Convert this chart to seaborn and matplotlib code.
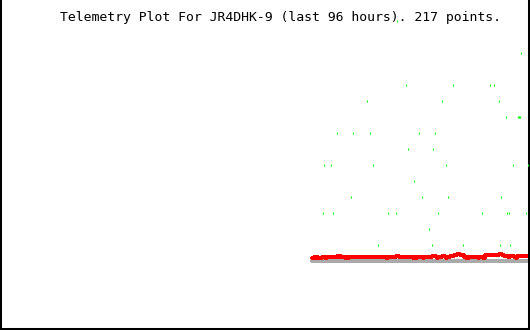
import matplotlib
matplotlib.use("Agg")
import matplotlib.pyplot as plt
import seaborn as sns
import pandas as pd

# ---- data ----
title = "Telemetry Plot For JR4DHK-9 (last 96 hours). 217 points."

# red series: step breakpoints (point index, value)
red_idx = [0, 2, 3, 5, 6, 10, 13, 15, 25, 26, 28, 29, 33, 34, 36, 37, 74, 76,
           84, 87, 101, 102, 103, 105, 111, 112, 120, 124, 125, 126, 130, 133,
           134, 135, 138, 142, 145, 148, 152, 154, 155, 156, 157, 166, 167, 171,
           173, 187, 190, 192, 196, 198, 202, 204, 205, 216]
red_val = [0.1875, 0.25, 0.1875, 0.25, 0.1875, 0.25, 0.1875, 0.25, 0.3125, 0.25,
           0.3125, 0.25, 0.1875, 0.25, 0.1875, 0.25, 0.1875, 0.25, 0.3125, 0.25,
           0.1875, 0.25, 0.1875, 0.25, 0.1875, 0.25, 0.3125, 0.25, 0.1875, 0.25,
           0.3125, 0.25, 0.1875, 0.25, 0.3125, 0.375, 0.4375, 0.375, 0.25, 0.1875,
           0.25, 0.1875, 0.25, 0.1875, 0.25, 0.1875, 0.375, 0.4375, 0.375, 0.3125,
           0.25, 0.3125, 0.25, 0.1875, 0.3125, 0.3125]

# green series: scattered points (point index, level)
green_idx = [85, 209, 94, 141, 178, 182, 55, 130, 187, 194, 206, 207, 208,
             25, 41, 58, 107, 123, 96, 121, 12, 19, 61, 134, 201, 216, 102,
             39, 110, 136, 189, 11, 21, 76, 84, 126, 170, 195, 197, 214, 117,
             66, 120, 151, 188, 198]
green_val = [15, 13, 11, 11, 11, 11, 10, 10, 10, 9, 9, 9, 9,
             8, 8, 8, 8, 8, 7, 7, 6, 6, 6, 6, 6, 6, 5,
             4, 4, 4, 4, 3, 3, 3, 3, 3, 3, 3, 3, 3, 2,
             1, 1, 1, 1, 1]

# gray baseline
base_idx = [0, 217]
base_val = [0, 0]

sns.set_theme(style="white")

fig = plt.figure(figsize=(5.3, 3.3), dpi=100)
ax = fig.add_axes([0, 0, 1, 1])

red_df = pd.DataFrame({"i": red_idx, "v": red_val})
green_df = pd.DataFrame({"i": green_idx, "v": green_val})
base_df = pd.DataFrame({"i": base_idx, "v": base_val})

sns.lineplot(data=base_df, x="i", y="v", ax=ax, color="#aaaaaa", linewidth=1.5,
             antialiased=False)
sns.lineplot(data=red_df, x="i", y="v", ax=ax, color="#ff0000", linewidth=1.48,
             drawstyle="steps-post", antialiased=False)
sns.scatterplot(data=green_df, x="i", y="v", ax=ax, marker="|", s=3.0,
                color="#00ff00", linewidth=0.8, antialiased=False, zorder=5)

ax.set_xlim(-312, 218)
ax.set_ylim(-4.3125, 16.3125)
ax.set_xticks([])
ax.set_yticks([])
ax.set_xlabel("")
ax.set_ylabel("")
for side in ["left", "right", "bottom"]:
    ax.spines[side].set_visible(True)
    ax.spines[side].set_color("black")
    ax.spines[side].set_linewidth(2.9)
ax.spines["top"].set_visible(False)

ax.text(60 / 530, 1 - 21 / 330, title, family="DejaVu Sans Mono",
        fontsize=9.45, color="black", ha="left", va="baseline",
        transform=fig.transFigure, zorder=1)

fig.savefig("out.png", dpi=100)
